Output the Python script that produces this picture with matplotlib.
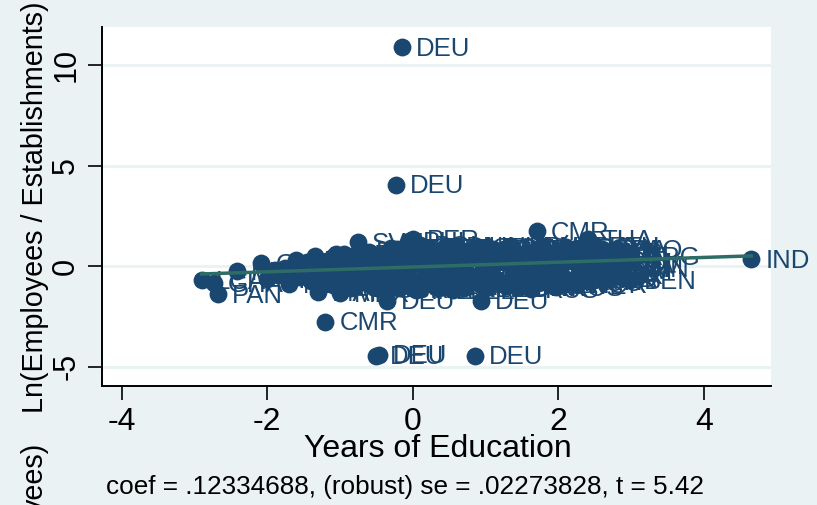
# added-variable plot: establishment size on education
import matplotlib
matplotlib.use("Agg")
import matplotlib.pyplot as plt

plt.rcParams["font.family"] = ["Liberation Sans", "DejaVu Sans"]

NAVY = "#1a476f"
LINE = "#2d6d66"
BG = "#eaf2f3"

# outliers and countries that can be read
edu = [-0.15, -0.23, -1.2, -0.5, -0.47, 0.85, 4.65, 1.7, 2.4, 2.98, 1.97, 1.62, 0.93, -0.35,
       -2.67, -2.9, -2.73, -2.42, -2.08, -0.75, 0.0, 3.0, 2.8, 2.6, 2.6, -1.0, -1.3, -0.05, 2.85, 2.75]
lnratio = [10.9, 4.05, -2.75, -4.45, -4.4, -4.45, 0.35, 1.75, 1.35, -0.7, -1.05, -1.15, -1.7, -1.7,
           -1.4, -0.7, -0.85, -0.25, 0.15, 1.2, 1.35, 0.5, 0.85, 0.7, 0.85, -1.35, -1.3, 1.25, -0.1, 0.05]
iso = ["DEU", "DEU", "CMR", "DEU", "DEU", "DEU", "IND", "CMR", "THA", "BEN", "RUS", "RUS", "DEU", "DEU",
       "PAN", "LCA", "GHA", "NPL", "GHA", "SVN", "PER", "ARG", "PAO", "BOL", "THA", "MEX", "MAR", "PHL", "CHN", "VNM"]

# the crowded middle, estimated
edu_mid = [-2.0, -1.85, -1.7, -1.55, -1.4, -1.25, -1.1, -0.95, -0.8, -0.65, -0.5, -0.35, -0.2, -0.05, 0.1, 0.25,
           0.4, 0.55, 0.7, 0.85, 1.0, 1.15, 1.3, 1.45, 1.6, 1.75, 1.9, 2.05, 2.2, 2.35, 2.4, 2.45, 2.5,
           -1.75, -1.6, -1.45, -1.35, -1.15, -1.0, -0.85, -0.7, -0.55, -0.4, -0.25, -0.1, 0.05, 0.2, 0.35,
           0.5, 0.65, 0.8, 0.95, 1.1, 1.25, 1.4, 1.55, 1.7, 1.85, 2.0, 2.15, 2.3, 2.45, 2.6, 2.6,
           -1.3, -1.1, -0.9, -0.7, -0.55, -0.3, -0.15, 0.1, 0.3, 0.45, 0.7, 0.9, 1.05, 1.3, 1.5, 1.7, 1.9,
           2.1, 2.3, 2.5, -1.6, -1.2, -0.95, -0.6, -0.2, 0.15, 0.5, 0.75, 1.2, 1.65, 2.05, 2.4, 2.55]
lnratio_mid = [-0.65, -0.45, -0.9, -0.55, -0.75, -0.3, -0.95, -0.55, -1.0, -0.6, -1.05, -0.7, -1.1, -0.65, -1.15, -0.75,
               -1.05, -0.7, -1.1, -0.75, -0.95, -0.7, -1.0, -0.6, -0.9, -0.65, -0.85, -0.55, -0.8, -0.5, -0.65, -0.4, -0.45,
               -0.1, 0.05, -0.15, 0.5, 0.1, 0.3, 0.0, 0.45, 0.05, 0.6, 0.1, 0.75, 0.15, 0.7, 0.2,
               0.8, 0.25, 0.75, 0.2, 0.85, 0.2, 0.7, 0.3, 0.85, 0.25, 0.75, 0.35, 0.9, 0.4, 0.55, 0.2,
               -0.35, 0.45, -0.2, 0.75, -0.3, 0.9, -0.25, 1.05, -0.2, 1.0, -0.15, 0.95, -0.2, 0.9, -0.1, 0.8, -0.05,
               0.95, 0.05, 1.0, 0.3, -0.6, 0.6, 0.2, 0.5, 0.5, 0.4, 0.45, 0.45, 0.4, 0.15, 0.6, -0.1]
iso_mid = ["CHL", "BRA", "MEX", "TUR", "ECU", "PRT", "ESP", "COL", "ITA", "GRC", "MYS", "CRI", "USA", "HUN", "KOR", "POL",
           "SVK", "LTU", "NLD", "ZAF", "KEN", "NGA", "FRA", "GBR", "BEL", "CZE", "FIN", "SWE", "ROU", "BGR", "DNK", "NOR", "UKR",
           "DOM", "HND", "GTM", "BOL", "SLV", "PER", "PRY", "VEN", "URY", "ARG", "IDN", "PHL", "SVN", "PRY", "BOL",
           "CHL", "GHA", "SLV", "TZA", "ZMB", "UGA", "LKA", "PAK", "BGD", "VNM", "CHN", "JOR", "EGY", "MAR", "TUN", "VNM",
           "COL", "MEX", "BRA", "ECU", "NIC", "HTI", "JAM", "BOL", "PER", "IDN", "THA", "CRI", "CHL", "DZA", "SEN", "MLI", "CIV",
           "TGO", "RWA", "ETH", "MOZ", "NER", "BFA", "MDG", "MWI", "ZWE", "AGO", "NAM", "BWA", "ARM", "GEO", "MDA", "CHN"]

# second pass over the blob, where the picture is solid
edu_fill = [-1.9, -1.65, -1.5, -1.2, -1.05, -0.9, -0.75, -0.6, -0.45, -0.3, -0.12, 0.02, 0.17, 0.32, 0.48, 0.62, 0.78,
            0.92, 1.08, 1.22, 1.38, 1.52, 1.68, 1.82, 1.98, 2.12, 2.28, 2.42, 2.5, 2.45, 2.6,
            -1.45, -1.25, -1.05, -0.8, -0.6, -0.42, -0.22, -0.02, 0.22, 0.42, 0.6, 0.85, 1.02, 1.18, 1.35, 1.58, 1.78,
            1.95, 2.18, 2.38, 2.55, 2.6, -0.85, -0.45, 0.05, 0.55, 1.0, 1.45, 1.95, 2.25, 2.4]
lnratio_fill = [-0.2, -0.4, -0.35, -0.65, -0.35, -0.8, -0.35, -0.8, -0.4, -0.9, -0.4, -0.95, -0.45, -1.0, -0.45, -0.95, -0.45,
                -0.9, -0.4, -0.85, -0.4, -0.8, -0.35, -0.75, -0.3, -0.7, -0.3, -0.6, -0.25, -0.6, -0.2,
                0.2, -0.05, 0.6, 0.25, 0.7, 0.3, 0.85, 0.4, 0.9, 0.45, 1.0, 0.5, 0.95, 0.55, 1.0, 0.6, 1.0,
                0.6, 0.7, 0.65, 0.7, 0.5, -1.1, -1.15, -1.2, -1.2, -1.1, -1.05, -0.95, -0.9, -0.75]
iso_fill = ["SLV", "ECU", "DOM", "GTM", "HND", "NIC", "CRI", "PAN", "COL", "VEN", "PER", "BOL", "PRY", "URY", "ARG", "CHL", "BRA",
            "MEX", "TUR", "TUN", "MAR", "DZA", "EGY", "JOR", "IRN", "PAK", "IND", "BGD", "LKA", "THA", "VNM",
            "PHL", "IDN", "MYS", "KOR", "CHN", "RUS", "UKR", "POL", "CZE", "SVK", "HUN", "ROU", "BGR", "SRB", "HRV", "SVN", "AUT",
            "DEU", "FRA", "ITA", "ESP", "PRT", "GRC", "GBR", "IRL", "BEL", "NLD", "DNK", "SWE", "NOR", "FIN"]

fit_x = [-2.9, 4.65]
fit_y = [-0.38, 0.52]

xticks = [-4, -2, 0, 2, 4]
yticks = [-5, 0, 5, 10]

fig = plt.figure(figsize=(8.17, 5.05), dpi=100, facecolor=BG)
ax = fig.add_axes([102 / 817, 1 - 386 / 505, (771 - 102) / 817, (386 - 27) / 505])
ax.set_xlim(-4.27, 4.92)
ax.set_ylim(-5.95, 11.9)

ax.yaxis.grid(True, color=BG, lw=2.2)
ax.set_axisbelow(True)

all_x = edu_fill + edu_mid + edu
all_y = lnratio_fill + lnratio_mid + lnratio
all_iso = iso_fill + iso_mid + iso
ax.scatter(all_x, all_y, s=165, color=NAVY, linewidths=0, zorder=3, clip_on=False)
for x, y, name in zip(all_x, all_y, all_iso):
    ax.annotate(name, (x, y), xytext=(10, -1), textcoords="offset points", color=NAVY,
                fontsize=18.5, ha="left", va="center", zorder=4)

ax.plot(fit_x, fit_y, color=LINE, lw=2.5, zorder=5)

for side in ["top", "right"]:
    ax.spines[side].set_visible(False)
ax.spines["left"].set_linewidth(1.4)
ax.spines["bottom"].set_linewidth(1.4)

ax.set_xticks(xticks)
ax.set_yticks(yticks)
ax.set_xticklabels([str(t) for t in xticks], fontsize=23)
ax.set_yticklabels([str(t) for t in yticks], fontsize=22, rotation=90, va="center")
ax.tick_params(axis="both", length=10, width=1.2, pad=5)

fig.text(438 / 817, 1 - 449 / 505, "Years of Education", fontsize=23, ha="center", va="center", color="black")
fig.text(35 / 817, 1 - 207 / 505, "Ln(Employees / Establishments)", fontsize=20.7, rotation=90,
         ha="center", va="center", color="black")
fig.text(35 / 817, 1 - 478 / 505, "yees)", fontsize=20.7, rotation=90, ha="center", va="center", color="black")
fig.text(106 / 817, 1 - 487 / 505, "coef = .12334688, (robust) se = .02273828, t = 5.42", fontsize=18.8,
         ha="left", va="center", color="black")

fig.savefig("out.png", dpi=100, facecolor=BG)
